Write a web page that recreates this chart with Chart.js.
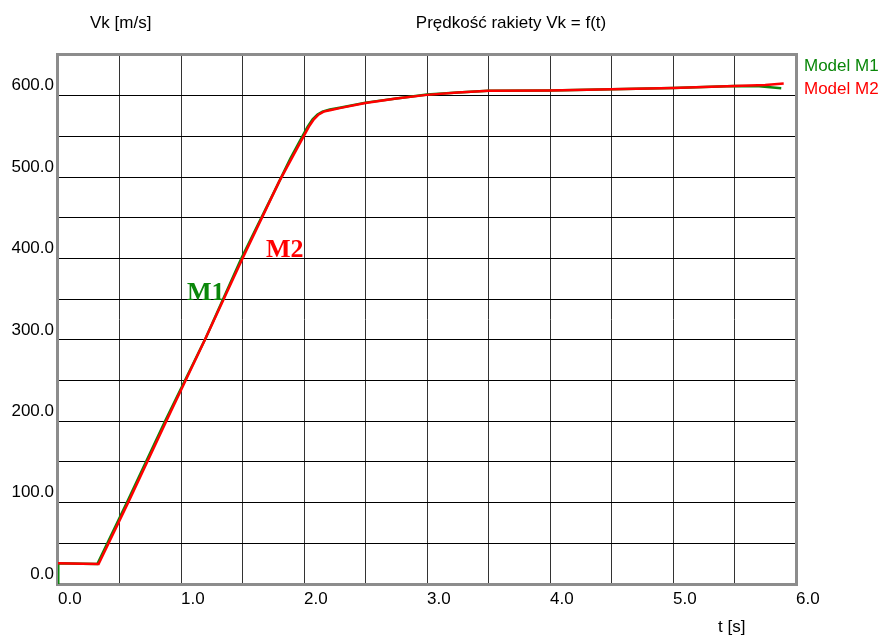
<!DOCTYPE html>
<html>
<head>
<meta charset="utf-8">
<title>Prędkość rakiety</title>
<script src="https://cdn.jsdelivr.net/npm/chart.js@4.4.1/dist/chart.umd.min.js"></script>
<style>
  body { margin: 0; background: #fff; }
  canvas { display: block; }
</style>
</head>
<body>
<canvas id="velocityChart" width="887" height="640"></canvas>
<script>
// time axis [s] and velocity [m/s]
const timeM1 = [0, 0.002, 0.2, 0.32, 0.56, 0.87, 1.2, 1.49, 1.8, 1.89, 1.99, 2.03, 2.07, 2.11, 2.15, 2.21, 2.3, 2.5, 2.75, 3.0, 3.25, 3.5, 4.0, 4.5, 5.0, 5.5, 5.7, 5.88];
const velM1  = [0, 25.5, 25, 24.5, 100, 200, 302, 400, 495, 523, 551, 562, 571, 577, 580.5, 583, 585.5, 591.5, 596.5, 601.5, 604, 606, 606.5, 608, 609.5, 612, 611.5, 609];

const timeM2 = [0, 0.2, 0.33, 0.57, 0.88, 1.2, 1.5, 1.8, 1.9, 2.0, 2.04, 2.08, 2.12, 2.16, 2.22, 2.3, 2.5, 2.75, 3.0, 3.25, 3.5, 4.0, 4.5, 5.0, 5.5, 5.75, 5.9];
const velM2  = [25.5, 25, 24.5, 100, 200, 302, 400, 495, 523, 551, 562, 571, 577, 580.5, 582.5, 585, 591, 596.5, 601, 604, 606, 606.5, 608, 609.5, 612, 613, 615];

const xTicks = [0, 1, 2, 3, 4, 5, 6];
const yTicks = [0, 100, 200, 300, 400, 500, 600];

const seriesNames = ['Model M1', 'Model M2'];
const seriesColors = ['#0a870a', '#ff0000'];

function toPoints(ts, vs) {
    return ts.map((t, i) => ({ x: t, y: vs[i] }));
}

// frame around the plot area, drawn under the curves
const framePlugin = {
    id: 'frame',
    beforeDatasetsDraw(chart) {
        const a = chart.chartArea;
        const ctx = chart.ctx;
        ctx.save();
        ctx.strokeStyle = '#8c8c8c';
        ctx.lineWidth = 3;
        ctx.strokeRect(a.left - 0.5, a.top - 0.5, a.right - a.left + 1, a.bottom - a.top + 1);
        ctx.restore();
    }
};

// axis titles, chart title, legend on the right, in-plot labels
const textPlugin = {
    id: 'texts',
    afterDraw(chart) {
        const ctx = chart.ctx;
        ctx.save();
        ctx.textBaseline = 'middle';
        ctx.font = '17px "Liberation Sans", Arial, sans-serif';
        ctx.fillStyle = '#000';
        ctx.textAlign = 'left';
        ctx.fillText('Vk [m/s]', 90, 23);
        ctx.textAlign = 'center';
        ctx.fillText('Prędkość rakiety Vk = f(t)', 511, 23);
        ctx.textAlign = 'left';
        ctx.fillText('t [s]', 718, 627);

        ctx.fillStyle = seriesColors[0];
        ctx.fillText(seriesNames[0], 804, 66);
        ctx.fillStyle = seriesColors[1];
        ctx.fillText(seriesNames[1], 804, 89);

        ctx.font = 'bold 26px "Liberation Serif", "Times New Roman", serif';
        ctx.fillStyle = seriesColors[0];
        ctx.fillText('M1', 187, 293);
        ctx.fillStyle = seriesColors[1];
        ctx.fillText('M2', 266, 250);
        ctx.restore();
    }
};

const ctx = document.getElementById('velocityChart');
const velocityChart = new Chart(ctx, {
    type: 'line',
    data: {
        datasets: [
            {
                label: seriesNames[0],
                data: toPoints(timeM1, velM1),
                borderColor: seriesColors[0],
                borderWidth: 2.5,
                pointRadius: 0,
                tension: 0,
                order: 1
            },
            {
                label: seriesNames[1],
                data: toPoints(timeM2, velM2),
                borderColor: seriesColors[1],
                borderWidth: 2.5,
                pointRadius: 0,
                tension: 0,
                order: 0
            }
        ]
    },
    options: {
        responsive: false,
        animation: false,
        devicePixelRatio: 1,
        layout: {
            padding: { left: 0, top: 55, right: 91, bottom: 0 }
        },
        scales: {
            x: {
                type: 'linear',
                min: 0,
                max: 6,
                afterFit: (scale) => { scale.height = 56; },
                afterBuildTicks: (scale) => {
                    const ticks = [];
                    for (let v = 0; v <= 6; v += 0.5) ticks.push({ value: v });
                    scale.ticks = ticks;
                },
                grid: { color: '#333', lineWidth: 1, drawTicks: false },
                border: { display: false },
                ticks: {
                    autoSkip: false,
                    maxRotation: 0,
                    align: 'start',
                    padding: 5,
                    color: '#000',
                    font: { family: '"Liberation Sans", Arial, sans-serif', size: 17 },
                    callback: (v) => xTicks.includes(v) ? v.toFixed(1) : ''
                }
            },
            y: {
                type: 'linear',
                min: 0,
                max: 650,
                afterFit: (scale) => { scale.width = 58; },
                afterBuildTicks: (scale) => {
                    const ticks = [];
                    for (let v = 0; v <= 650; v += 50) ticks.push({ value: v });
                    scale.ticks = ticks;
                },
                grid: { color: '#000', lineWidth: 1, drawTicks: false },
                border: { display: false },
                ticks: {
                    autoSkip: false,
                    padding: 4,
                    labelOffset: -10,
                    color: '#000',
                    font: { family: '"Liberation Sans", Arial, sans-serif', size: 17 },
                    callback: (v) => yTicks.includes(v) ? v.toFixed(1) : ''
                }
            }
        },
        plugins: {
            legend: { display: false },
            tooltip: { enabled: false },
            title: { display: false }
        }
    },
    plugins: [framePlugin, textPlugin]
});
</script>
</body>
</html>
